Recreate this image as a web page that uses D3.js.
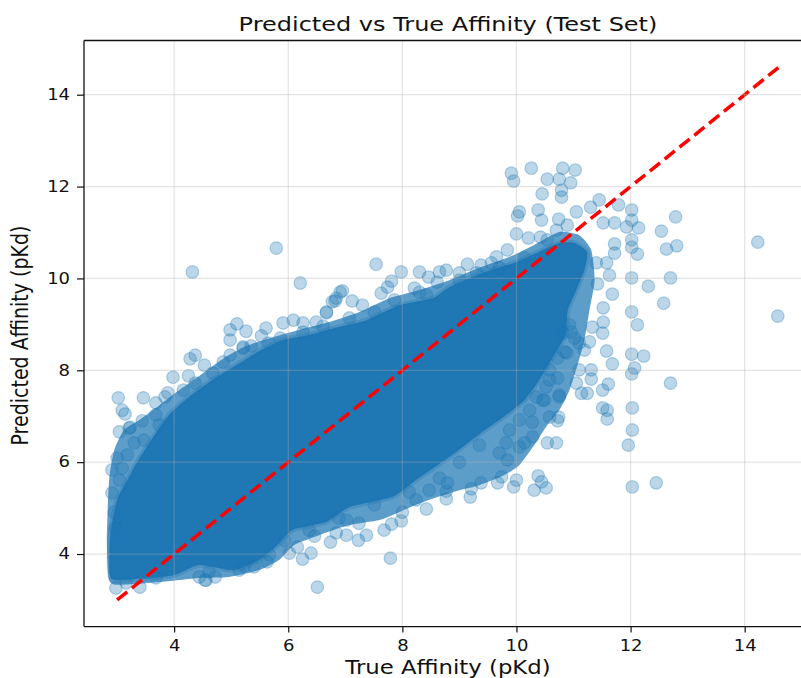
<!DOCTYPE html>
<html>
<head>
<meta charset="utf-8">
<script src="https://cdn.jsdelivr.net/npm/d3@7"></script>
<style>
  body { margin: 0; background: #fff; }
  svg { display: block; font-family: "DejaVu Sans", sans-serif; }
</style>
</head>
<body>
<div id="chart"></div>
<script>
// Data: [true pKd, predicted pKd]
const titleText = "Predicted vs True Affinity (Test Set)";
const xLabel = "True Affinity (pKd)";
const yLabel = "Predicted Affinity (pKd)";
const xTicks = [4, 6, 8, 10, 12, 14];
const yTicks = [4, 6, 8, 10, 12, 14];
const axisDomain = [2.42, 15.18];
const identityLine = [[3.0, 3.0], [14.6, 14.6]];

// outline of the half-covered fringe around the cloud
const fringeOutline = [
  [11.10, 10.94], [11.31, 10.62], [11.37, 9.96], [11.28, 9.31], [11.19, 8.66], [11.07, 8.11],
  [10.93, 7.57], [10.75, 7.13], [10.54, 6.81], [10.31, 6.37], [10.05, 5.94], [9.79, 5.72],
  [9.35, 5.50], [9.00, 5.39], [8.47, 5.18], [8.03, 4.96], [7.60, 4.74], [7.07, 4.63],
  [6.54, 4.41], [6.11, 4.20], [5.84, 3.87], [5.49, 3.65], [4.96, 3.50], [4.44, 3.48],
  [3.74, 3.39], [3.04, 3.33], [2.86, 3.43], [2.82, 4.30], [2.86, 5.61], [2.95, 6.26],
  [3.12, 6.70], [3.39, 6.92], [3.74, 7.24], [4.09, 7.57], [4.53, 7.96], [4.88, 8.27],
  [5.23, 8.51], [5.67, 8.70], [6.19, 8.88], [6.72, 9.05], [7.25, 9.27], [7.77, 9.57],
  [8.30, 9.75], [8.82, 9.96], [9.35, 10.23], [9.88, 10.47], [10.31, 10.73], [10.75, 11.01]
];

// outline of the saturated cloud where thousands of points overlap
const coreOutline = [
  [2.89, 3.48], [2.88, 4.41], [3.00, 5.18], [3.18, 5.61], [3.35, 6.00], [3.60, 6.48],
  [3.91, 7.03], [4.26, 7.42], [4.67, 7.79], [4.91, 7.98], [5.23, 8.22], [5.49, 8.42],
  [5.91, 8.66], [6.37, 8.77], [6.81, 8.92], [7.37, 9.09], [7.95, 9.42], [8.53, 9.57],
  [8.82, 9.81], [9.40, 10.12], [10.00, 10.36], [10.31, 10.53], [10.75, 10.77], [11.02, 10.77],
  [11.24, 10.57], [11.19, 10.18], [11.05, 9.75], [10.90, 9.31], [10.86, 8.77], [10.63, 8.27],
  [10.40, 7.79], [10.14, 7.35], [9.79, 7.00], [9.35, 6.61], [8.82, 6.11], [8.24, 5.61],
  [7.82, 5.24], [7.07, 5.02], [6.67, 4.70], [6.07, 4.52], [5.79, 4.17], [5.44, 3.83],
  [5.02, 3.65], [4.44, 3.76], [4.00, 3.54], [3.39, 3.46]
];

const upperLeftPoints = [
  [5.79, 10.66], [4.32, 10.14], [6.21, 9.90], [7.54, 10.31], [3.02, 7.40], [3.09, 7.13],
  [3.14, 7.05], [3.46, 7.40], [3.23, 6.76], [3.44, 6.90], [3.68, 7.29], [3.68, 7.03],
  [3.84, 7.42], [3.89, 7.51], [3.98, 7.85], [4.25, 7.88], [4.16, 7.57], [4.37, 7.72],
  [4.28, 8.25], [4.37, 8.33], [4.53, 8.11], [4.86, 8.18], [4.68, 7.94], [4.98, 8.66],
  [4.98, 8.88], [5.10, 9.01], [5.26, 8.85], [5.21, 8.51], [5.53, 8.75], [5.61, 8.92],
  [5.91, 9.03], [6.09, 9.09], [6.26, 9.03], [6.49, 9.05], [6.67, 9.25], [6.82, 9.51],
  [6.91, 9.70], [3.04, 6.66], [3.21, 6.74], [3.30, 6.42], [3.00, 6.09], [3.09, 5.87],
  [2.95, 4.91], [2.97, 4.57], [2.91, 5.33], [2.91, 5.83], [3.04, 5.61], [3.18, 6.16],
  [3.47, 6.48], [3.74, 6.81], [4.98, 8.33], [5.21, 8.48], [5.35, 8.53], [5.65, 8.59],
  [5.86, 8.70], [6.26, 8.83], [6.61, 8.96]
];

const upperMidPoints = [
  [7.98, 10.14], [8.30, 10.14], [8.46, 10.03], [8.65, 10.14], [8.77, 10.18], [8.61, 9.92],
  [9.14, 10.31], [9.38, 10.29], [9.56, 10.34], [9.00, 10.12], [9.30, 10.12], [6.95, 9.73],
  [6.84, 9.57], [6.77, 9.49], [7.12, 9.51], [7.30, 9.42], [6.67, 9.27], [7.81, 9.94],
  [7.74, 9.81], [7.63, 9.68], [8.21, 9.79], [8.42, 9.64], [9.65, 10.47], [9.84, 10.62],
  [7.07, 9.14], [7.51, 9.27], [7.86, 9.53], [8.30, 9.70], [9.00, 9.96], [9.70, 10.23],
  [10.14, 10.45]
];

const upperRightPoints = [
  [9.91, 12.29], [9.95, 12.12], [10.26, 12.40], [10.81, 12.40], [11.03, 12.36], [10.54, 12.16],
  [10.75, 12.16], [10.95, 12.08], [10.79, 11.92], [10.45, 11.84], [10.79, 11.77], [10.05, 11.45],
  [10.02, 11.36], [10.38, 11.49], [10.44, 11.27], [10.74, 11.29], [11.05, 11.45], [11.30, 11.55],
  [11.45, 11.71], [11.79, 11.60], [12.02, 11.49], [12.79, 11.34], [12.02, 11.27], [11.52, 11.21],
  [11.72, 11.21], [11.93, 11.12], [12.14, 11.10], [12.54, 11.03], [12.02, 10.84], [12.02, 10.68],
  [12.12, 10.53], [12.63, 10.64], [12.81, 10.71], [14.23, 10.79], [10.00, 10.97], [10.21, 10.88],
  [10.42, 10.90], [10.70, 11.05], [10.89, 11.16], [10.54, 10.84], [12.02, 10.01], [12.31, 9.83],
  [12.70, 10.01], [12.58, 9.46], [12.02, 9.27], [12.12, 8.99], [14.58, 9.18], [11.72, 10.75],
  [11.72, 10.55], [11.58, 10.34], [11.40, 10.34], [11.63, 10.07], [11.42, 9.88], [11.68, 9.66],
  [11.52, 9.36], [11.52, 9.05], [11.51, 8.81], [11.33, 8.94]
];

const rightPoints = [
  [11.58, 8.42], [11.68, 8.14], [12.02, 8.35], [12.23, 8.31], [12.07, 8.05], [12.02, 7.92],
  [12.70, 7.72], [11.51, 7.18], [11.59, 7.13], [11.59, 6.94], [12.03, 7.18], [12.03, 6.70],
  [11.96, 6.37], [11.31, 8.01], [11.31, 7.81], [11.61, 7.70], [11.51, 7.57], [11.14, 7.50],
  [11.24, 7.50], [11.05, 7.72], [11.10, 8.01], [11.28, 8.62], [10.54, 6.42], [10.70, 6.42],
  [10.38, 5.70], [10.00, 5.61], [9.95, 5.46], [10.31, 5.39], [10.52, 5.44], [10.44, 5.57],
  [12.03, 5.46], [12.45, 5.55], [10.74, 6.98], [10.72, 6.90], [10.58, 6.98], [10.28, 6.87],
  [10.28, 6.55], [10.14, 6.42], [10.05, 6.33], [9.84, 6.05], [9.74, 5.68], [10.84, 8.40],
  [11.02, 8.70], [10.93, 8.99], [10.75, 7.46], [10.49, 7.35], [10.58, 7.79], [10.23, 7.13],
  [10.81, 8.81], [10.96, 8.83], [11.10, 8.59], [11.19, 8.44], [10.88, 8.38], [10.72, 8.27],
  [10.58, 8.01], [10.72, 7.83], [10.52, 7.64], [10.35, 7.42], [10.05, 6.92], [9.88, 6.70],
  [9.82, 6.42], [9.70, 6.20], [10.46, 7.35], [10.75, 7.42]
];

const lowerPoints = [
  [6.51, 3.28], [7.79, 3.91], [6.40, 4.02], [6.25, 3.89], [6.02, 4.02], [6.16, 4.15],
  [6.46, 4.39], [6.74, 4.26], [6.84, 4.46], [7.02, 4.41], [7.23, 4.30], [7.37, 4.41],
  [7.68, 4.52], [7.81, 4.65], [7.98, 4.72], [8.00, 4.91], [8.42, 4.98], [8.77, 5.20],
  [9.19, 5.24], [9.21, 5.42], [9.38, 5.55], [9.67, 5.55], [8.77, 5.37], [8.79, 5.55],
  [8.47, 5.39], [8.24, 5.18], [7.24, 4.67], [7.02, 4.74], [4.56, 3.43], [4.72, 3.50],
  [5.14, 3.65], [5.40, 3.72], [5.63, 3.83], [4.44, 3.50], [2.98, 3.26], [3.16, 3.37],
  [3.40, 3.28], [3.68, 3.48], [4.54, 3.43], [4.61, 3.61], [5.23, 3.74], [5.67, 3.98],
  [5.93, 4.30], [6.37, 4.52], [6.89, 4.78], [7.51, 5.07], [8.12, 5.35], [8.65, 5.65],
  [9.00, 6.00], [9.35, 6.37]
];

// Layout
const width = 801;
const height = 678;
const plot = { left: 84, right: 812, top: 40.5, bottom: 626.6 };
const stretch = 1.2; // horizontal stretch of the source image

const svg = d3.select("#chart")
  .append("svg")
  .attr("width", width)
  .attr("height", height);

const x = d3.scaleLinear().domain(axisDomain).range([plot.left, plot.right]);
const y = d3.scaleLinear().domain(axisDomain).range([plot.bottom, plot.top]);

svg.append("defs").append("clipPath").attr("id", "plot-clip")
  .append("rect")
  .attr("x", plot.left).attr("y", plot.top)
  .attr("width", plot.right - plot.left).attr("height", plot.bottom - plot.top);

const body = svg.append("g").attr("clip-path", "url(#plot-clip)");

const cloudLine = d3.line()
  .x(d => x(d[0]))
  .y(d => y(d[1]))
  .curve(d3.curveCardinalClosed.tension(0.4));

// half-covered fringe, then saturated core
body.append("path")
  .attr("d", cloudLine(fringeOutline))
  .attr("fill", "#1f77b4")
  .attr("fill-opacity", 0.72);

body.append("path")
  .attr("d", cloudLine(coreOutline))
  .attr("fill", "#1f77b4")
  .attr("stroke", "#1f77b4")
  .attr("stroke-opacity", 0.3)
  .attr("stroke-width", 5)
  .attr("stroke-linejoin", "round");

// individual points
const allPoints = [].concat(upperLeftPoints, upperMidPoints, upperRightPoints, rightPoints, lowerPoints);
body.append("g")
  .selectAll("circle")
  .data(allPoints)
  .join("circle")
  .attr("cx", d => x(d[0]))
  .attr("cy", d => y(d[1]))
  .attr("r", 6.3)
  .attr("fill", "#1f77b4")
  .attr("fill-opacity", 0.3)
  .attr("stroke", "#1f77b4")
  .attr("stroke-opacity", 0.3)
  .attr("stroke-width", 1.2);

// grid (drawn above the scatter like matplotlib)
const grid = svg.append("g");
grid.selectAll(".vgrid")
  .data(xTicks)
  .join("line")
  .attr("x1", d => x(d)).attr("x2", d => x(d))
  .attr("y1", plot.top).attr("y2", plot.bottom)
  .attr("stroke", "#b0b0b0").attr("stroke-opacity", 0.35).attr("stroke-width", 1.2);
grid.selectAll(".hgrid")
  .data(yTicks)
  .join("line")
  .attr("x1", plot.left).attr("x2", plot.right)
  .attr("y1", d => y(d)).attr("y2", d => y(d))
  .attr("stroke", "#b0b0b0").attr("stroke-opacity", 0.35).attr("stroke-width", 1.2);

// y = x reference
body.append("path")
  .attr("d", d3.line().x(d => x(d[0])).y(d => y(d[1]))(identityLine))
  .attr("fill", "none")
  .attr("stroke", "red")
  .attr("stroke-width", 3.5)
  .attr("stroke-dasharray", "13,6");

// spines
const spines = svg.append("g").attr("stroke", "#111").attr("stroke-width", 1.3);
spines.append("line").attr("x1", plot.left).attr("x2", plot.left).attr("y1", plot.top).attr("y2", plot.bottom);
spines.append("line").attr("x1", plot.left).attr("x2", plot.right).attr("y1", plot.top).attr("y2", plot.top);
spines.append("line").attr("x1", plot.left).attr("x2", plot.right).attr("y1", plot.bottom).attr("y2", plot.bottom);

// axes
const xAxis = svg.append("g")
  .attr("transform", `translate(0, ${plot.bottom})`)
  .call(d3.axisBottom(x).tickValues(xTicks).tickSize(6).tickSizeOuter(0).tickPadding(8));
const yAxis = svg.append("g")
  .attr("transform", `translate(${plot.left}, 0)`)
  .call(d3.axisLeft(y).tickValues(yTicks).tickSize(7).tickSizeOuter(0).tickPadding(8));

svg.selectAll(".domain").remove();
svg.selectAll(".tick line").attr("stroke", "#111").attr("stroke-width", 1.2);
svg.selectAll(".tick text")
  .attr("fill", "#111")
  .style("font-size", "15px")
  .style("font-family", "'DejaVu Sans', sans-serif")
  .attr("transform", `scale(${stretch},1)`);
yAxis.selectAll(".tick text").attr("x", -14 / stretch);

// titles
svg.append("text")
  .attr("transform", `translate(${(plot.left + plot.right) / 2}, 31) scale(${stretch},1)`)
  .attr("text-anchor", "middle")
  .attr("fill", "#111")
  .style("font-size", "20px")
  .text(titleText);

svg.append("text")
  .attr("transform", `translate(${(plot.left + plot.right) / 2}, 674) scale(${stretch},1)`)
  .attr("text-anchor", "middle")
  .attr("fill", "#111")
  .style("font-size", "19px")
  .text(xLabel);

svg.append("text")
  .attr("transform", `translate(28, ${(plot.top + plot.bottom) / 2 + 2}) scale(${stretch},1) rotate(-90)`)
  .attr("text-anchor", "middle")
  .attr("fill", "#111")
  .style("font-size", "19px")
  .text(yLabel);
</script>
</body>
</html>
